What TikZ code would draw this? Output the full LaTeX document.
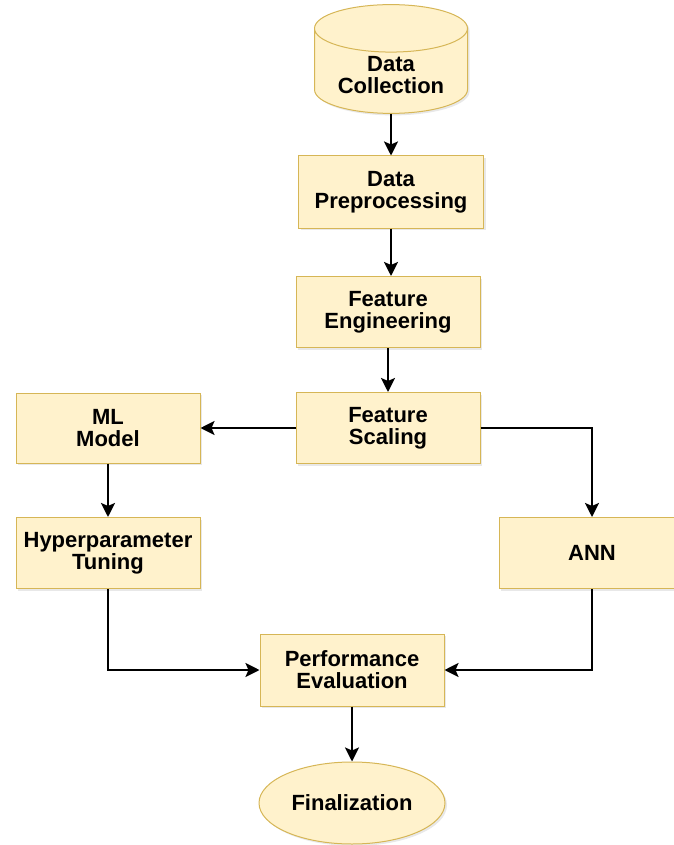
\documentclass[tikz,border=0pt]{standalone}
\usepackage{fontspec}
\setmainfont{Liberation Sans}
\usetikzlibrary{shapes.geometric, arrows.meta, shadows}

\definecolor{boxfill}{HTML}{FFF2CC}
\definecolor{boxline}{HTML}{D6B656}

\tikzset{
  stepfont/.style={font=\bfseries\fontsize{22}{22}\selectfont},
  stepbox/.style={rectangle, draw=boxline, fill=boxfill, line width=1pt,
    minimum width=184pt, minimum height=71pt, align=center, stepfont,
    drop shadow={opacity=0.18, shadow xshift=2pt, shadow yshift=-2pt}},
  flow/.style={line width=2.4pt, -{Stealth[length=14pt, width=14pt, inset=3pt]}}
}

\begin{document}
\begin{tikzpicture}[x=1pt, y=-1pt]
  \useasboundingbox (0,0) rectangle (673,845);

  % Nodes
  \node (collect) [cylinder, shape border rotate=90, aspect=0.42,
    draw=boxline, fill=boxfill, line width=1pt, minimum width=153pt,
    minimum height=102pt, align=center, stepfont, anchor=shape center,
    drop shadow={opacity=0.18, shadow xshift=2pt, shadow yshift=-2pt}]
    at (391, 59) {Data\\Collection};
  \node (prep) [stepbox, minimum width=185pt, minimum height=72pt] at (391, 192) {Data\\Preprocessing};
  \node (feng) [stepbox] at (388, 312) {Feature\\Engineering};
  \node (fscal) [stepbox] at (388, 428) {Feature\\Scaling};
  \node (ml) [stepbox, minimum height=70pt] at (108, 428) {ML\\Model};
  \node (hyper) [stepbox] at (108, 553) {Hyperparameter\\Tuning};
  \node (ann) [stepbox, minimum width=186pt] at (592, 553) {ANN};
  \node (perf) [stepbox, minimum height=72pt] at (352, 670) {Performance\\Evaluation};
  \node (final) [ellipse, draw=boxline, fill=boxfill, line width=1pt,
    minimum width=186pt, minimum height=82pt, stepfont,
    drop shadow={opacity=0.18, shadow xshift=2pt, shadow yshift=-2pt}]
    at (352, 803) {Finalization};

  % Edges
  \draw [flow] (collect.bottom) -- (prep.north);
  \draw [flow] (prep.south) -- (prep.south |- feng.north);
  \draw [flow] (feng) -- (fscal);
  \draw [flow] (fscal) -- (ml);
  \draw [flow] (fscal.east) -| (ann.north);
  \draw [flow] (ml) -- (hyper);
  \draw [flow] (hyper.south) |- (perf.west);
  \draw [flow] (ann.south) |- (perf.east);
  \draw [flow] (perf) -- (final);
\end{tikzpicture}
\end{document}
